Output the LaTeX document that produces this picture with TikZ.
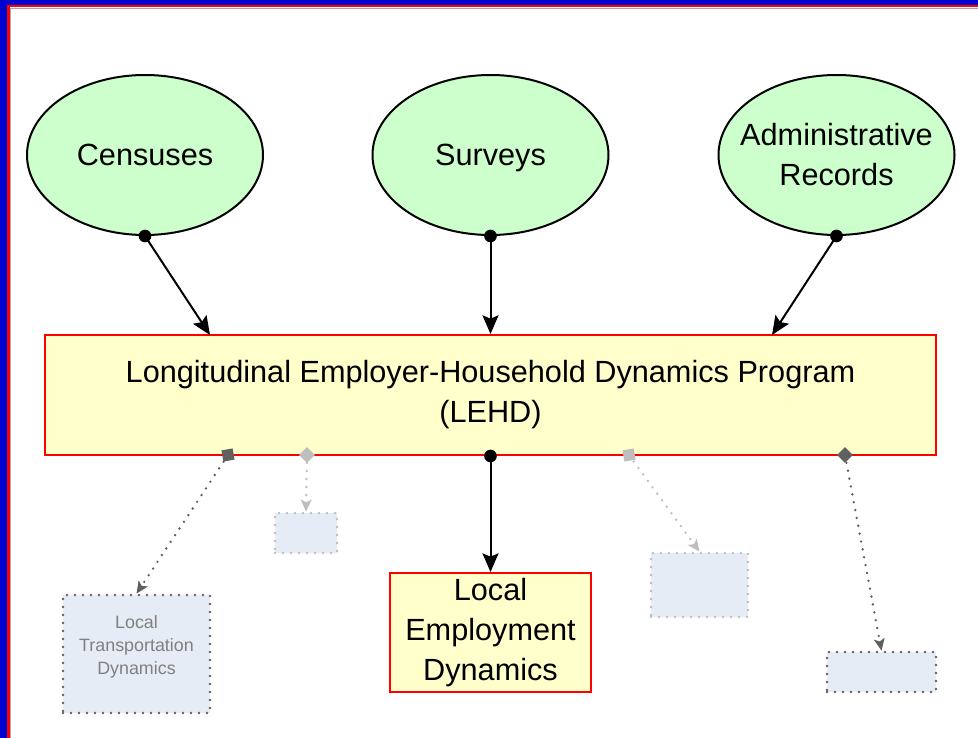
\documentclass[tikz,border=0pt]{standalone}
\usepackage{fontspec}
\setmainfont{Liberation Sans}
\usetikzlibrary{shapes.geometric,arrows.meta}

\definecolor{srcgreen}{RGB}{204,255,204}
\definecolor{progyellow}{RGB}{255,255,204}
\definecolor{boxred}{RGB}{255,0,0}
\definecolor{frameblue}{RGB}{0,0,208}
\definecolor{futfill}{RGB}{230,236,246}
\definecolor{darkdot}{RGB}{96,96,96}
\definecolor{lightdot}{RGB}{190,190,190}
\definecolor{futtext}{RGB}{128,128,128}

\tikzset{every picture/.style={line width=0.75pt}}

\begin{document}
\begin{tikzpicture}[x=0.75pt,y=0.75pt,yscale=-1,xscale=1,
  source/.style={draw=black,line width=1.5pt,fill=srcgreen,ellipse,inner sep=0pt,
    minimum width=177pt,minimum height=120pt,align=center,font=\fontsize{23}{30}\selectfont},
  program/.style={draw=boxred,line width=1.5pt,fill=progyellow,inner sep=0pt,
    align=center,font=\fontsize{23}{30}\selectfont},
  dotline/.style={line width=2pt,line cap=round,dash pattern=on 0pt off 6pt},
  future/.style={fill=futfill,inner sep=0pt,dotline,align=center,text=futtext,
    font=\fontsize{13.4}{17.25}\selectfont},
  feed/.style={line width=1.5pt,-{Stealth[length=14pt,width=12pt,inset=2.5pt]}},
  plan/.style={dotline,-{Stealth[length=9pt,width=8pt,inset=2pt]}},
  dotmark/.style={circle,fill=black,inner sep=0pt,minimum size=9.5pt},
  sqmark/.style={rectangle,inner sep=0pt,minimum size=8.5pt},
  dmmark/.style={diamond,inner sep=0pt,minimum size=12pt}
]
\useasboundingbox (0,0) rectangle (978,738);

%Frame
\fill[frameblue] (0,0) rectangle (7,738);
\fill[frameblue] (0,0) rectangle (978,5);
\fill[boxred] (7,5) rectangle (9.5,738);
\fill[boxred] (7,5) rectangle (978,7.5);
\draw[gray!70,line width=0.6pt] (10,738) -- (10,8) -- (978,8);

%Shape: Ellipse
\node[source] (cen) at (145,155) {Censuses};
\node[source,text depth=0pt] (sur) at (490.5,155) {Surveys};
\node[source,inner xsep=-12pt] (adm) at (836.5,155) {Administrative\\Records};

%Shape: Rectangle
\node[program,minimum width=668.25pt,minimum height=90pt] (lehd) at (490.5,395)
  {Longitudinal Employer-Household Dynamics Program\\(LEHD)};
\node[program,minimum width=150.75pt,minimum height=89.25pt] (led) at (490.5,632.5)
  {Local\\Employment\\Dynamics};

%Shape: Future boxes
\node[future,draw=darkdot,minimum width=110.25pt,minimum height=88.5pt,text depth=13.5pt] (ltd) at (136.5,654)
  {Local\\Transportation\\Dynamics};
\node[future,draw=lightdot,minimum width=46.5pt,minimum height=30pt] (sbox) at (306,533) {};
\node[future,draw=lightdot,minimum width=72.75pt,minimum height=48pt] (mbox) at (699.5,585) {};
\node[future,draw=darkdot,minimum width=81.75pt,minimum height=30pt] (rbox) at (881.5,672) {};

%Coordinates on LEHD
\coordinate (lehd-t1) at (210,335);
\coordinate (lehd-t3) at (772,335);
\coordinate (lehd-b1) at (228,455);
\coordinate (lehd-b2) at (307,455);
\coordinate (lehd-b4) at (629,455);
\coordinate (lehd-b5) at (845,455);

%Straight Lines
\draw[feed] (cen.south) -- (lehd-t1);
\draw[feed] (sur.south) -- (lehd.north);
\draw[feed] (adm.south) -- (lehd-t3);
\draw[feed] (lehd.south) -- (led.north);

%Dotted Lines
\draw[plan,darkdot] (lehd-b1) -- (ltd.north);
\draw[plan,lightdot] (lehd-b2) -- (sbox.north);
\draw[plan,lightdot] (lehd-b4) -- (mbox.north);
\draw[plan,darkdot] (lehd-b5) -- (rbox.north);

%Markers
\node[dotmark] at (cen.south) {};
\node[dotmark] at (sur.south) {};
\node[dotmark] at (adm.south) {};
\node[dotmark] at (lehd.south) {};
\node[sqmark,fill=darkdot,rotate=10] at (lehd-b1) {};
\node[dmmark,fill=lightdot] at (lehd-b2) {};
\node[sqmark,fill=lightdot,rotate=10] at (lehd-b4) {};
\node[dmmark,fill=darkdot] at (lehd-b5) {};

\end{tikzpicture}
\end{document}
